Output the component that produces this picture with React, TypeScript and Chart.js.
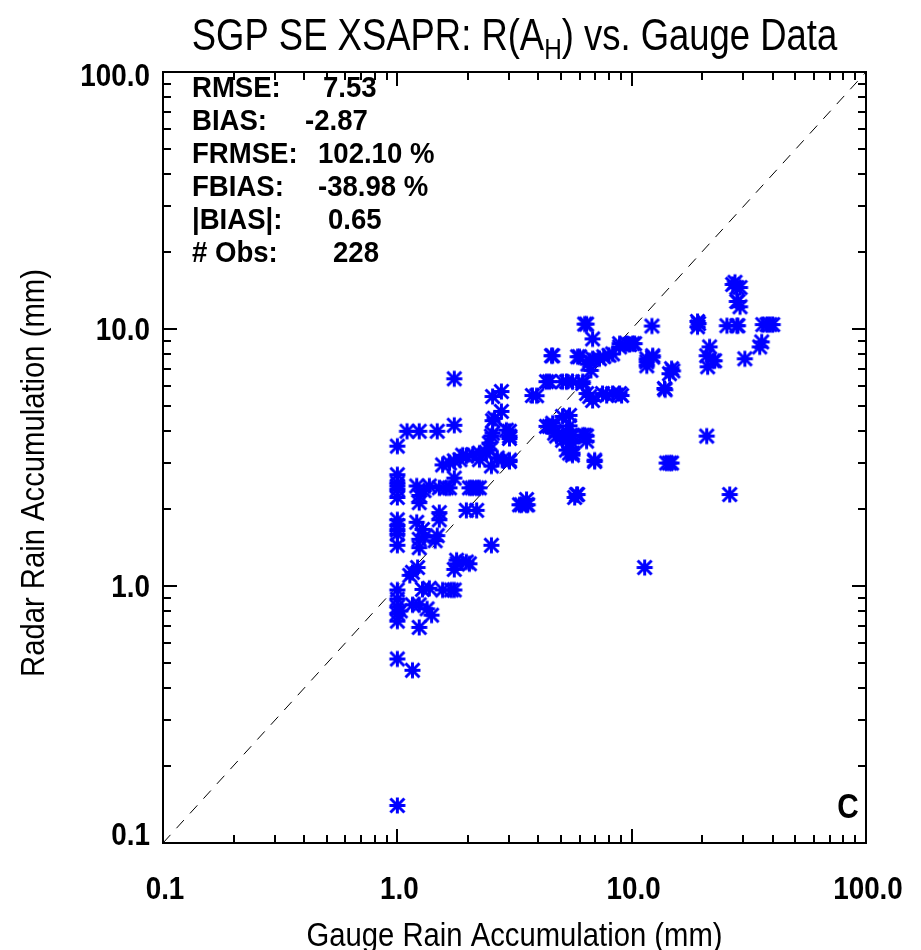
import React, { useEffect, useRef } from 'react';
import { Chart, registerables } from 'chart.js';

Chart.register(...registerables);

// Gauge (x) and radar (y) rain accumulations in mm
const gaugeMm = [
  1.0, 1.0, 1.0, 1.0, 1.0, 1.0, 1.0, 1.0, 1.0, 1.0, 1.0, 1.0, 1.0, 1.0, 1.0, 1.0, 1.0, 1.0,
  1.10, 1.16, 1.13, 1.16, 1.16, 1.03,
  1.24, 1.21, 1.37, 1.24, 1.24, 1.21, 1.28, 1.24, 1.24, 1.22, 1.28, 1.37, 1.24, 1.34, 1.40, 1.24, 1.30, 1.30,
  1.48, 1.56, 1.51, 1.62, 1.51, 1.51, 1.48, 1.56, 1.45,
  1.75, 1.75, 1.75, 1.67, 1.75, 1.67, 1.79, 1.75, 1.75, 1.80, 1.70,
  1.90, 1.97, 1.85, 1.97, 2.03, 1.97, 2.03, 2.09,
  2.24, 2.18, 2.24, 2.18, 2.24, 2.10,
  2.47, 2.47, 2.55, 2.60, 2.55, 2.52, 2.52, 2.52, 2.67, 2.55, 2.40,
  2.78, 2.78, 2.92, 3.01, 3.01, 3.01, 2.80, 3.01, 3.01,
  3.32, 3.39, 3.56, 3.60, 3.56,
  3.77, 3.93,
  4.33, 4.46, 4.55, 4.60, 4.60, 4.33, 4.69, 4.78, 4.46, 4.60,
  5.07, 5.07, 5.07, 5.07, 5.27, 5.43, 5.43, 5.43, 5.43, 5.59, 5.59, 5.59, 5.59, 5.59, 5.27, 5.71, 5.82, 5.88, 5.88, 5.99, 5.27, 5.43,
  6.18, 6.18, 6.18, 6.30, 6.42, 6.42, 6.42, 6.62, 6.81, 6.30, 6.42, 6.81, 6.62, 6.81, 6.95, 6.95, 6.50, 6.70,
  7.29, 7.51, 7.82, 8.29, 8.29, 8.88, 8.88, 8.88, 9.06, 7.6, 8.0,
  9.53, 10.1, 10.3, 11.6, 11.6, 12.3, 12.3, 11.6, 12.2, 9.8,
  14.8, 14.5, 15.0, 13.8, 13.9, 14.1, 14.5, 14.8, 11.36,
  19.1, 19.1, 19.3,
  21.5, 20.9, 22.2, 21.1, 22.6, 20.9,
  27.0, 27.6, 28.1, 29.0, 28.1, 29.0, 28.4, 25.5, 28.1, 28.4, 26.2, 30.4,
  35.2, 35.9, 36.3, 37.8, 38.9, 40.0,
];

const radarMm = [
  3.50, 2.71, 2.52, 2.45, 2.37, 2.21, 1.81, 1.72, 1.65, 1.59, 1.44, 0.965, 0.89, 0.83, 0.78, 0.73, 0.52, 0.14,
  4.0, 1.13, 1.10, 0.845, 0.47, 0.80,
  4.0, 2.45, 2.45, 2.25, 2.11, 1.77, 1.66, 1.52, 1.41, 1.18, 0.97, 0.98, 0.845, 0.815, 0.77, 0.69, 2.35, 1.55,
  4.0, 2.96, 2.41, 2.41, 1.93, 1.81, 1.57, 0.965, 1.50,
  6.4, 4.22, 3.07, 3.01, 2.63, 2.41, 1.26, 1.16, 0.965, 1.22, 0.965,
  3.23, 3.2, 3.1, 1.97, 2.41, 1.24, 1.22, 2.41,
  3.29, 2.41, 2.41, 1.97, 3.1, 3.25,
  3.38, 3.6, 3.93, 4.49, 5.46, 3.83, 2.93, 1.44, 3.15, 4.4, 3.30,
  5.71, 4.78, 4.04, 4.0, 3.83, 3.75, 3.09, 3.09, 3.05,
  2.07, 2.07, 2.07, 2.07, 2.17,
  5.51, 5.5,
  6.24, 6.24, 7.87, 7.87, 4.30, 4.18, 3.93, 3.83, 4.18, 4.18,
  6.24, 4.57, 3.83, 3.69, 3.38, 4.61, 3.83, 3.44, 3.29, 3.6, 3.29, 3.23, 3.83, 6.24, 6.24, 2.21, 2.27, 2.27, 7.80, 7.80, 4.0, 4.2,
  6.24, 6.14, 3.86, 3.86, 3.66, 3.83, 5.61, 5.46, 5.27, 10.45, 10.45, 9.15, 7.52, 7.66, 3.09, 3.05, 7.3, 6.9,
  7.66, 5.61, 5.51, 8.0, 5.61, 8.52, 8.77, 5.61, 5.51, 7.8, 7.9,
  8.77, 8.77, 8.77, 7.66, 7.45, 7.87, 7.77, 7.19, 10.27, 8.7,
  7.01, 6.7, 6.87, 5.87, 5.80, 3.01, 3.01, 3.01, 1.18,
  10.7, 10.2, 10.5,
  8.52, 7.87, 7.52, 7.13, 7.52, 3.83,
  14.9, 15.2, 14.5, 14.5, 12.8, 12.2, 12.8, 10.3, 10.3, 10.3, 2.27, 7.66,
  8.52, 8.91, 10.4, 10.4, 10.4, 10.4,
];

const oneToOneLine = [0.1, 100];
const axisMin = 0.1;
const axisMax = 100;
const decadeTicks = [0.1, 1, 10, 100];
const decadeLabels = ['0.1', '1.0', '10.0', '100.0'];
const minorMultipliers = [2, 3, 4, 5, 6, 7, 8, 9];

const statLabels = ['RMSE:', 'BIAS:', 'FRMSE:', 'FBIAS:', '|BIAS|:', '# Obs:'];
const statValues = ['7.53', '-2.87', '102.10 %', '-38.98 %', '0.65', '228'];

const titleMain = 'SGP SE XSAPR: R(A';
const titleSub = 'H';
const titleTail = ') vs. Gauge Data';
const xTitle = 'Gauge Rain Accumulation (mm)';
const yTitle = 'Radar Rain Accumulation (mm)';
const panelLetter = 'C';

const FONT = '"Liberation Sans", Arial, Helvetica, sans-serif';
const SX = 0.81;

function drawText(
  ctx: CanvasRenderingContext2D,
  s: string,
  x: number,
  capCenterY: number,
  size: number,
  align: CanvasTextAlign,
  sx: number = SX,
  rot: number = 0,
  weight: string = 'normal'
) {
  ctx.save();
  ctx.translate(x, capCenterY);
  if (rot) ctx.rotate(rot);
  ctx.scale(sx, 1);
  ctx.font = `${weight} ${size}px ${FONT}`;
  ctx.textAlign = align;
  ctx.textBaseline = 'alphabetic';
  ctx.fillStyle = '#000';
  ctx.fillText(s, 0, size * 0.358);
  ctx.restore();
}

function measure(ctx: CanvasRenderingContext2D, s: string, size: number, sx: number = SX) {
  ctx.save();
  ctx.font = `normal ${size}px ${FONT}`;
  const w = ctx.measureText(s).width * sx;
  ctx.restore();
  return w;
}

function makeAsterisk(): HTMLCanvasElement {
  const c = document.createElement('canvas');
  const s = 19;
  c.width = s;
  c.height = s;
  const g = c.getContext('2d')!;
  const m = s / 2;
  const r = 8;
  g.strokeStyle = '#0000ff';
  g.lineWidth = 3;
  g.lineCap = 'butt';
  g.beginPath();
  g.moveTo(m - r, m);
  g.lineTo(m + r, m);
  g.moveTo(m, m - r);
  g.lineTo(m, m + r);
  g.moveTo(m - r + 1, m - r + 1);
  g.lineTo(m + r - 1, m + r - 1);
  g.moveTo(m - r + 1, m + r - 1);
  g.lineTo(m + r - 1, m - r + 1);
  g.stroke();
  return c;
}

const decorPlugin = {
  id: 'idlDecor',
  afterDraw(chart: any) {
    const { ctx, chartArea: ca, scales } = chart;
    const xs = scales.x;
    const ys = scales.y;
    ctx.save();

    // frame
    ctx.strokeStyle = '#000';
    ctx.lineWidth = 2;
    ctx.strokeRect(ca.left, ca.top, ca.right - ca.left, ca.bottom - ca.top);

    // ticks (inward, on all four sides)
    const tickVals: { v: number; major: boolean }[] = [];
    decadeTicks.forEach((d, i) => {
      tickVals.push({ v: d, major: true });
      if (i < decadeTicks.length - 1) minorMultipliers.forEach((m) => tickVals.push({ v: d * m, major: false }));
    });
    ctx.beginPath();
    tickVals.forEach(({ v, major }) => {
      const len = major ? 14 : 8;
      const px = Math.round(xs.getPixelForValue(v));
      ctx.moveTo(px, ca.bottom);
      ctx.lineTo(px, ca.bottom - len);
      ctx.moveTo(px, ca.top);
      ctx.lineTo(px, ca.top + len);
      const py = Math.round(ys.getPixelForValue(v));
      ctx.moveTo(ca.left, py);
      ctx.lineTo(ca.left + len, py);
      ctx.moveTo(ca.right, py);
      ctx.lineTo(ca.right - len, py);
    });
    ctx.stroke();

    // tick labels
    decadeTicks.forEach((v, i) => {
      const px = xs.getPixelForValue(v);
      drawText(ctx, decadeLabels[i], px + 2, ca.bottom + 45, 32, 'center', 0.87, 0, 'bold');
      const py = ys.getPixelForValue(v);
      const cy = Math.min(Math.max(py, ca.top + 3), ca.bottom - 9);
      drawText(ctx, decadeLabels[i], ca.left - 13, cy, 32, 'right', 0.87, 0, 'bold');
    });

    // axis titles
    const cx = (ca.left + ca.right) / 2;
    drawText(ctx, xTitle, cx, 934, 34, 'center', 0.86);
    drawText(ctx, yTitle, 32, 473, 34, 'center', 0.86, -Math.PI / 2);

    // title with subscript
    const tSize = 45;
    const sSize = 30;
    const w1 = measure(ctx, titleMain, tSize);
    const w2 = measure(ctx, titleSub, sSize);
    const w3 = measure(ctx, titleTail, tSize);
    let tx = cx - (w1 + w2 + w3) / 2;
    drawText(ctx, titleMain, tx, 33.5, tSize, 'left');
    tx += w1;
    drawText(ctx, titleSub, tx, 48, sSize, 'left');
    tx += w2;
    drawText(ctx, titleTail, tx, 33.5, tSize, 'left');

    // statistics block
    const valueX = [323, 305, 318, 318, 328, 333];
    statLabels.forEach((lab, i) => {
      const cy = 87 + i * 33;
      drawText(ctx, lab, 192, cy, 29, 'left', 0.95, 0, 'bold');
      drawText(ctx, statValues[i], valueX[i], cy, 29, 'left', 0.95, 0, 'bold');
    });

    // panel letter
    drawText(ctx, panelLetter, ca.right - 18, 805, 35, 'center', 0.85, 0, 'bold');

    ctx.restore();
  },
};

export default function App() {
  const ref = useRef<HTMLCanvasElement | null>(null);

  useEffect(() => {
    document.body.style.margin = '0';
    const canvas = ref.current;
    if (!canvas) return;
    const points = gaugeMm.map((g, i) => ({ x: g, y: radarMm[i] }));
    const marker = makeAsterisk();
    const chart = new Chart(canvas, {
      type: 'scatter',
      data: {
        datasets: [
          {
            data: points,
            pointStyle: marker,
            pointRadius: 9,
            pointHoverRadius: 9,
            borderColor: '#0000ff',
            backgroundColor: '#0000ff',
          } as any,
          {
            type: 'line',
            data: oneToOneLine.map((v) => ({ x: v, y: v })),
            borderColor: '#000',
            borderWidth: 1,
            borderDash: [11, 9],
            pointRadius: 0,
            fill: false,
            tension: 0,
          } as any,
        ],
      },
      options: {
        animation: false,
        responsive: false,
        events: [],
        layout: { padding: { left: 163, right: 55, top: 72, bottom: 107 } },
        scales: {
          x: { type: 'logarithmic', min: axisMin, max: axisMax, display: false },
          y: { type: 'logarithmic', min: axisMin, max: axisMax, display: false },
        },
        plugins: {
          legend: { display: false },
          tooltip: { enabled: false },
          title: { display: false },
        },
      },
      plugins: [decorPlugin],
    });
    return () => chart.destroy();
  }, []);

  return (
    <div style={{ width: 921, height: 950, background: '#fff' }}>
      <canvas ref={ref} width={921} height={950} style={{ display: 'block' }} />
    </div>
  );
}
